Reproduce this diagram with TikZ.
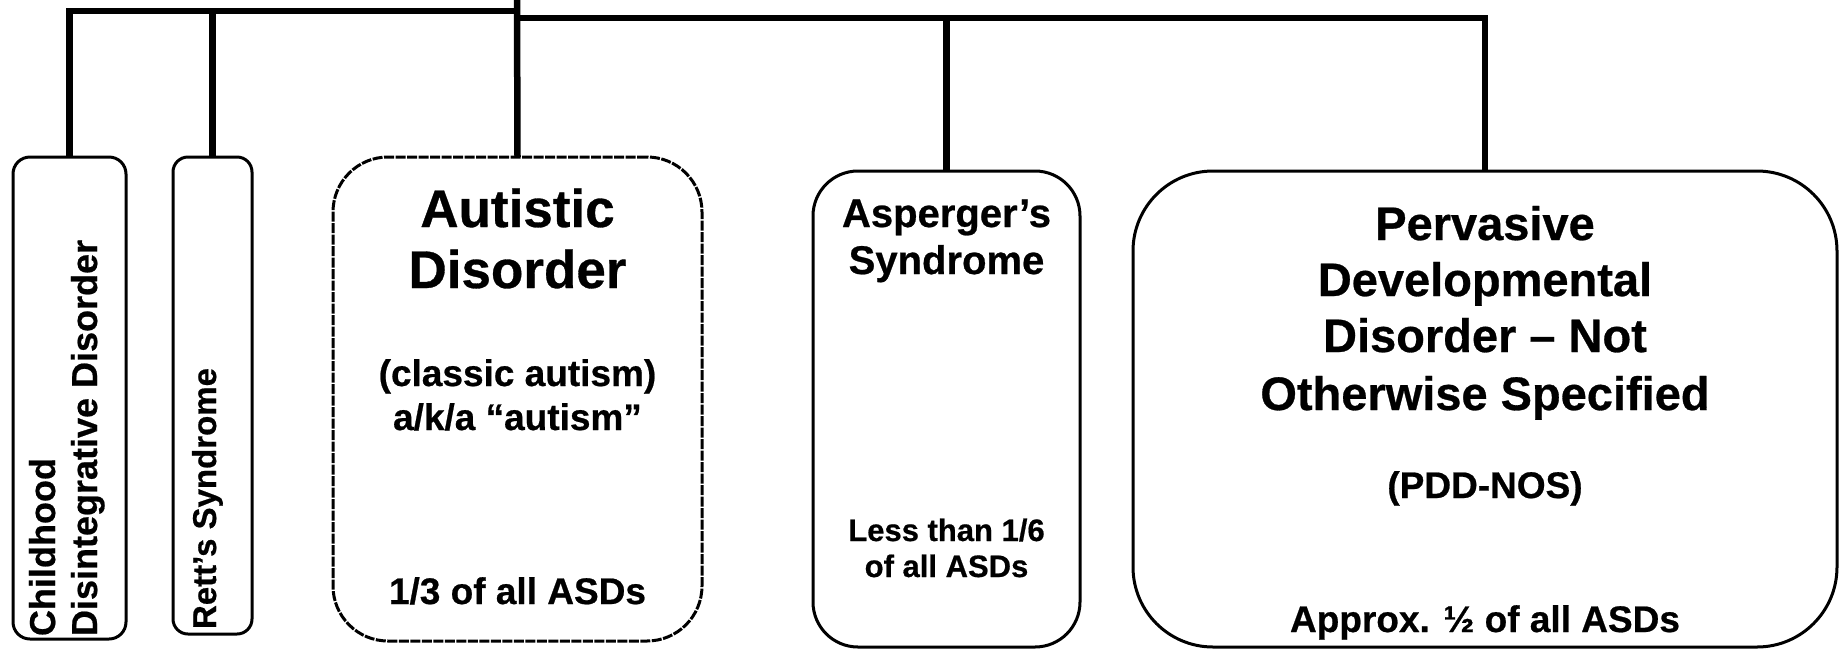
\documentclass[tikz,border=0pt]{standalone}
\usepackage{fontspec}
\setmainfont{Liberation Sans}[BoldFeatures={FakeBold=0.6}]
\begin{document}
\begin{tikzpicture}[x=1pt,y=-1pt,
  conn/.style={line width=6.5pt, line join=miter},
  box/.style={draw, line width=3pt, anchor=north west, inner sep=0pt, outer sep=0pt},
  lbl/.style={inner sep=0pt, outer sep=0pt, anchor=base},
  rot/.style={inner sep=0pt, outer sep=0pt, anchor=base west, rotate=90, font=\fontsize{36}{42}\selectfont\bfseries},
  fAut/.style={font=\fontsize{53}{61}\selectfont\bfseries},
  fPdd/.style={font=\fontsize{47}{56}\selectfont\bfseries},
  fAsp/.style={font=\fontsize{40}{47}\selectfont\bfseries},
  fSm/.style={font=\fontsize{37}{44}\selectfont\bfseries},
  fSmA/.style={font=\fontsize{31}{37}\selectfont\bfseries},
]
\useasboundingbox (0,0) rectangle (1840,649);

% boxes
\node[box, rounded corners=17pt, minimum width=113pt, minimum height=482pt] (cdd) at (13,157) {};
\node[box, rounded corners=15pt, minimum width=79pt, minimum height=477pt] (rett) at (173,157) {};
\node[box, rounded corners=55pt, minimum width=369pt, minimum height=484pt, dash pattern=on 10pt off 1.5pt] (aut) at (333,157) {};
\node[box, rounded corners=45pt, minimum width=267pt, minimum height=476pt] (asp) at (813,171) {};
\node[box, rounded corners=80pt, minimum width=704pt, minimum height=476pt] (pdd) at (1133,171) {};

% connectors
\coordinate (root) at (517,0);
\coordinate (busL) at (0,11);
\coordinate (busR) at (0,18);
\draw[conn] (cdd.north) |- (aut.north |- busL);
\draw[conn] (rett.north) -- (rett.north |- busL);
\draw[conn] (root) -- (aut.north);
\draw[conn] (aut.north |- busR) -| (pdd.north);
\draw[conn] (asp.north) -- (asp.north |- busR);

% rotated texts
\node[rot] (cdd1) at (55,636) {Childhood};
\node[rot] (cdd2) at (97,636) {Disintegrative Disorder};
\node[rot, font=\fontsize{33}{40}\selectfont\bfseries] (rett1) at (216,629) {Rett’s Syndrome};

% autistic
\node[lbl, fAut] (aut1) at (517.5,227) {Autistic};
\node[lbl, fAut] (aut2) at (517.5,288) {Disorder};
\node[lbl, fSm] (aut3) at (517.5,386) {(classic autism)};
\node[lbl, fSm] (aut4) at (517.5,430) {a/k/a “autism”};
\node[lbl, fSm] (aut5) at (517.5,604) {1/3 of all ASDs};

% asperger
\node[lbl, fAsp] (asp1) at (946.5,227) {Asperger’s};
\node[lbl, fAsp] (asp2) at (946.5,274) {Syndrome};
\node[lbl, fSmA] (asp3) at (946.5,541) {Less than 1/6};
\node[lbl, fSmA] (asp4) at (946.5,577) {of all ASDs};

% pdd-nos
\node[lbl, fPdd] (pdd1) at (1485,240) {Pervasive};
\node[lbl, fPdd] (pdd2) at (1485,296) {Developmental};
\node[lbl, fPdd] (pdd3) at (1485,352) {Disorder – Not};
\node[lbl, fPdd] (pdd4) at (1485,410) {Otherwise Specified};
\node[lbl, fSm] (pdd5) at (1485,498) {(PDD-NOS)};
\node[lbl, fSm] (pdd6) at (1485,632) {Approx. ½ of all ASDs};
\end{tikzpicture}
\end{document}
